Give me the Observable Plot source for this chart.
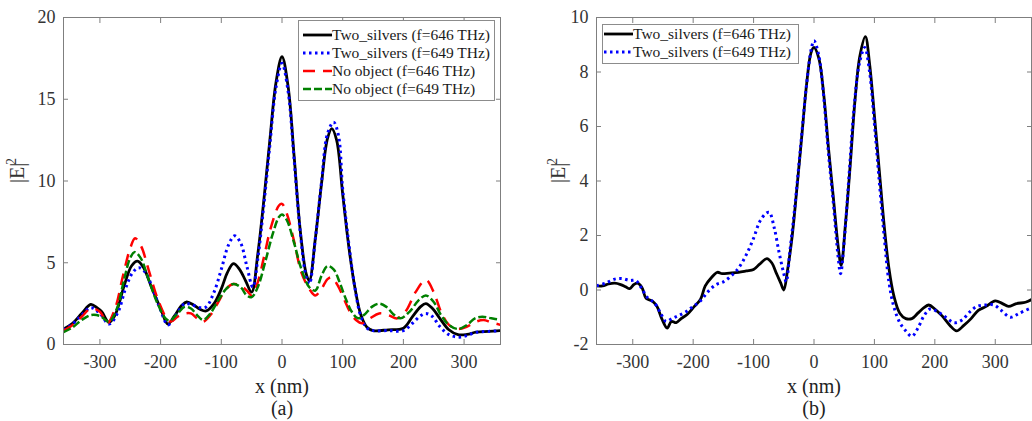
<!DOCTYPE html>
<html><head><meta charset="utf-8">
<script src="https://cdn.jsdelivr.net/npm/d3@7"></script>
<script src="https://cdn.jsdelivr.net/npm/@observablehq/plot@0.6"></script>
<style>
body{margin:0;background:#fff;}
#wrap{display:flex;width:1032px;height:421px;position:relative;overflow:hidden;}
.panel{position:relative;width:516px;height:421px;flex:none;}
.panel svg text{font-family:"Liberation Serif","Times New Roman",serif;}
.legend{position:absolute;background:#fff;border:1px solid #8c8c8c;font-family:"Liberation Serif","Times New Roman",serif;font-size:15.5px;color:#1a1a1a;box-sizing:border-box;}
.row{display:flex;align-items:center;height:18px;white-space:nowrap;}
.row svg{flex:none;display:block;}
</style></head><body>
<div id="wrap"><div class="panel" id="pa"></div><div class="panel" id="pb"></div></div>
<script>
// ---------- Panel (a) ----------
const aSilver646X = [-360,-345,-330,-315,-305,-297,-285,-275,-260,-248,-238,-228,-215,-200,-188,-178,-165,-157,-145,-135,-125,-112,-100,-90,-80,-70,-60,-50,-40,-30,-20,-10,0,10,20,30,40,45,55,65,75,82,90,100,110,120,130,140,150,175,200,215,228,237,248,260,275,290,305,320,340,360];
const aSilver646Y = [0.95,1.3,1.9,2.45,2.25,2.0,1.35,1.8,3.6,4.8,5.1,4.7,3.5,2.2,1.25,1.7,2.4,2.6,2.4,2.15,2.05,2.5,3.4,4.4,4.95,4.6,3.9,3.2,5.5,8.8,12.5,16.0,17.6,15.8,11.5,7.0,4.3,3.9,6.5,9.8,12.6,13.2,12.5,9.2,6.0,3.5,1.8,1.05,0.85,0.9,1.0,1.7,2.3,2.5,2.2,1.6,0.9,0.6,0.62,0.75,0.8,0.85];

const aSilver649X = [-360,-345,-330,-315,-300,-285,-270,-258,-246,-236,-225,-212,-200,-188,-175,-160,-150,-135,-125,-112,-100,-88,-78,-68,-58,-48,-40,-30,-20,-10,0,10,20,30,40,45,55,65,75,85,93,100,110,120,130,140,150,175,200,215,228,237,248,260,275,292,305,320,340,360];
const aSilver649Y = [0.9,1.25,1.8,2.25,1.9,1.25,2.0,3.4,4.4,4.7,4.4,3.3,2.1,1.2,1.8,2.5,2.45,2.25,2.3,3.2,4.6,6.1,6.65,6.2,4.8,3.5,5.2,8.5,12.2,15.7,17.2,15.5,11.3,6.9,4.1,3.7,6.5,9.9,12.9,13.6,12.8,9.5,6.2,3.5,1.7,1.0,0.85,0.85,0.85,1.3,1.75,1.9,1.7,1.1,0.6,0.45,0.55,0.75,0.8,0.85];

const aNone646X = [-360,-345,-330,-315,-300,-288,-275,-262,-250,-242,-232,-220,-205,-190,-183,-172,-160,-150,-140,-130,-118,-105,-92,-80,-68,-58,-50,-40,-30,-18,-5,0,8,20,32,45,55,65,75,82,92,102,112,122,132,145,160,175,190,205,220,237,250,262,275,290,305,320,332,345,360];
const aNone646Y = [0.85,1.2,1.7,2.2,2.0,1.3,2.2,4.2,5.9,6.5,6.0,4.6,2.8,1.6,1.4,1.7,1.9,1.9,1.6,1.4,1.8,2.6,3.4,3.7,3.6,3.3,3.0,3.8,5.3,7.2,8.5,8.6,8.0,6.3,4.4,3.4,3.0,3.4,4.0,4.1,3.6,2.8,2.0,1.5,1.3,1.6,1.9,1.8,1.6,2.1,3.2,3.95,3.2,2.0,1.2,0.95,1.1,1.4,1.5,1.35,1.2];

const aNone649X = [-360,-345,-330,-315,-300,-285,-272,-260,-250,-243,-233,-220,-205,-192,-185,-172,-160,-150,-140,-130,-118,-105,-92,-80,-68,-58,-50,-40,-28,-15,-5,0,8,20,32,45,55,65,75,85,95,105,115,125,135,148,160,172,185,195,210,225,237,250,262,275,290,305,318,330,345,360];
const aNone649Y = [0.75,1.05,1.5,1.8,1.75,1.4,2.2,4.0,5.3,5.65,5.3,4.0,2.5,1.6,1.45,1.9,2.3,2.2,1.8,1.5,1.9,2.7,3.4,3.7,3.5,3.0,2.9,3.5,5.0,6.8,7.8,7.95,7.6,6.2,4.6,3.5,3.3,4.2,4.8,4.6,3.8,2.8,2.0,1.6,1.8,2.3,2.5,2.3,1.8,1.6,2.0,2.7,3.0,2.6,1.8,1.2,0.95,1.2,1.6,1.7,1.6,1.5];

// ---------- Panel (b) ----------
const bSilver646X = [-360,-350,-340,-330,-320,-312,-305,-298,-292,-285,-278,-268,-260,-252,-243,-236,-228,-220,-210,-198,-188,-180,-170,-160,-152,-140,-125,-112,-100,-90,-78,-70,-62,-55,-50,-44,-36,-28,-20,-12,-5,0,8,16,24,32,40,45,52,60,68,76,85,92,100,108,116,124,132,142,152,162,172,182,190,200,212,225,236,248,260,272,285,300,312,322,335,350,360];
const bSilver646Y = [0.15,0.15,0.22,0.25,0.2,0.12,0.05,0.2,0.25,0.1,-0.3,-0.4,-0.6,-1.05,-1.4,-1.15,-1.2,-1.05,-0.9,-0.6,-0.35,0.15,0.45,0.65,0.6,0.62,0.65,0.7,0.75,0.95,1.15,1.0,0.6,0.25,0.0,0.7,2.0,3.8,5.7,7.6,8.7,8.9,8.5,7.2,5.2,3.4,1.6,0.9,2.4,4.6,7.0,8.6,9.3,8.3,6.4,4.4,2.4,0.8,-0.2,-0.85,-1.05,-1.05,-0.85,-0.65,-0.55,-0.7,-0.95,-1.3,-1.5,-1.3,-1.05,-0.75,-0.6,-0.4,-0.5,-0.6,-0.5,-0.45,-0.35];

const bSilver649X = [-360,-345,-330,-318,-305,-295,-285,-275,-265,-255,-245,-235,-225,-212,-200,-188,-175,-162,-150,-138,-125,-112,-100,-90,-80,-74,-66,-58,-50,-46,-40,-32,-22,-12,-4,0,8,16,24,32,40,44,50,58,66,75,84,92,100,108,116,124,132,142,152,162,172,182,192,205,218,232,245,258,270,285,298,310,325,340,360];
const bSilver649Y = [0.15,0.25,0.4,0.42,0.35,0.35,0.05,-0.3,-0.45,-0.8,-1.15,-1.05,-0.95,-0.8,-0.6,-0.4,-0.05,0.2,0.3,0.5,0.8,1.3,1.9,2.5,2.8,2.85,2.3,1.4,0.6,0.3,1.4,3.0,5.3,7.6,8.9,9.15,8.6,7.1,5.0,3.2,1.2,0.6,1.8,4.2,6.6,8.3,8.9,8.0,6.1,4.0,2.0,0.3,-0.6,-1.2,-1.5,-1.7,-1.4,-0.95,-0.7,-0.8,-1.0,-1.2,-1.1,-0.8,-0.6,-0.55,-0.55,-0.75,-1.0,-0.85,-0.65];

const xTicks = [-300,-200,-100,0,100,200,300];
const aYTicks = [0,5,10,15,20];
const bYTicks = [-2,0,2,4,6,8,10];

const labelsA = ["Two_silvers (f=646 THz)","Two_silvers (f=649 THz)","No object (f=646 THz)","No object (f=649 THz)"];
const labelsB = ["Two_silvers (f=646 THz)","Two_silvers (f=649 THz)"];

const FONT = "Liberation Serif, Times New Roman, serif";

const styles = [
  {stroke:"#000000", strokeWidth:2.8, dash:null},
  {stroke:"#0000ff", strokeWidth:3, dash:"2.5,3.5"},
  {stroke:"#ff0000", strokeWidth:2.5, dash:"12,8"},
  {stroke:"#008000", strokeWidth:2.5, dash:"8,3"}
];

const toRows = (xs, ys) => xs.map((x,i)=>({x, y: ys[i]}));

function makePanel({series, yDomain, yTicks, marginLeft, marginRight, letter, ylabelDx}) {
  const lines = series.map((d,i)=>Plot.line(d, {x:"x", y:"y", stroke: styles[i].stroke, strokeWidth: styles[i].strokeWidth, strokeDasharray: styles[i].dash, strokeLinecap:"butt", curve:"catmull-rom", clip:true}));
  return Plot.plot({
    width: 516, height: 421, marginLeft, marginRight, marginTop: 17, marginBottom: 77,
    style: {fontFamily: FONT, fontSize: "18px", color: "#333", background: "transparent"},
    x: {domain: [-360, 360]},
    y: {domain: yDomain},
    marks: [
      ...lines,
      Plot.frame({stroke: "#7f7f7f"}),
      Plot.axisX(xTicks, {anchor:"bottom", tickSize:-5, tickPadding:16, tickFormat: d=>String(d), stroke:"#7f7f7f", fill:"#333", label:null, fontSize:18, fontFamily: FONT}),
      Plot.axisX(xTicks, {anchor:"top", tickSize:-5, tickFormat: ()=>"", stroke:"#7f7f7f", label:null}),
      Plot.axisY(yTicks, {anchor:"left", tickSize:-5, tickPadding:13, tickFormat: d=>String(d), stroke:"#7f7f7f", fill:"#333", label:null, fontSize:18, fontFamily: FONT}),
      Plot.axisY(yTicks, {anchor:"right", tickSize:-5, tickFormat: ()=>"", stroke:"#7f7f7f", label:null}),
      Plot.text(["x (nm)"], {frameAnchor:"bottom", dy:48, fontSize:20, fill:"#222", fontFamily: FONT}),
      Plot.text([letter], {frameAnchor:"bottom", dy:70, fontSize:20, fill:"#222", fontFamily: FONT}),
      Plot.text(["|E|"], {frameAnchor:"left", dx: ylabelDx, dy: 2, rotate:-90, fontSize:20, fill:"#333", fontFamily: FONT}),
      Plot.text(["2"], {frameAnchor:"left", dx: ylabelDx - 6, dy: -16, rotate:-90, fontSize:14, fill:"#333", fontFamily: FONT})
    ]
  });
}

function makeLegend(labels, {left, top, width, padTop, padLeft}) {
  const box = document.createElement("div");
  box.className = "legend";
  Object.assign(box.style, {left: left+"px", top: top+"px", width: width+"px", paddingTop: padTop+"px", paddingLeft: padLeft+"px", paddingBottom: "2px"});
  labels.forEach((lab,i)=>{
    const s = styles[i];
    const row = document.createElement("div");
    row.className = "row";
    row.innerHTML = `<svg width="29" height="18"><line x1="0" y1="9" x2="29" y2="9" stroke="${s.stroke}" stroke-width="${s.strokeWidth}" ${s.dash?`stroke-dasharray="${s.dash}"`:""}/></svg><span>${lab}</span>`;
    box.appendChild(row);
  });
  return box;
}

const pa = document.getElementById("pa");
pa.appendChild(makePanel({
  series: [toRows(aSilver646X,aSilver646Y), toRows(aSilver649X,aSilver649Y), toRows(aNone646X,aNone646Y), toRows(aNone649X,aNone649Y)],
  yDomain: [0,20], yTicks: aYTicks, marginLeft: 63, marginRight: 16, letter: "(a)", ylabelDx: -46
}));
pa.appendChild(makeLegend(labelsA, {left:298, top:20, width:197, padTop:5, padLeft:4}));

const pb = document.getElementById("pb");
pb.appendChild(makePanel({
  series: [toRows(bSilver646X,bSilver646Y), toRows(bSilver649X,bSilver649Y)],
  yDomain: [-2,10], yTicks: bYTicks, marginLeft: 80, marginRight: 1, letter: "(b)", ylabelDx: -38
}));
pb.appendChild(makeLegend(labelsB, {left:86, top:24, width:197, padTop:0, padLeft:1}));
</script>
</body></html>
